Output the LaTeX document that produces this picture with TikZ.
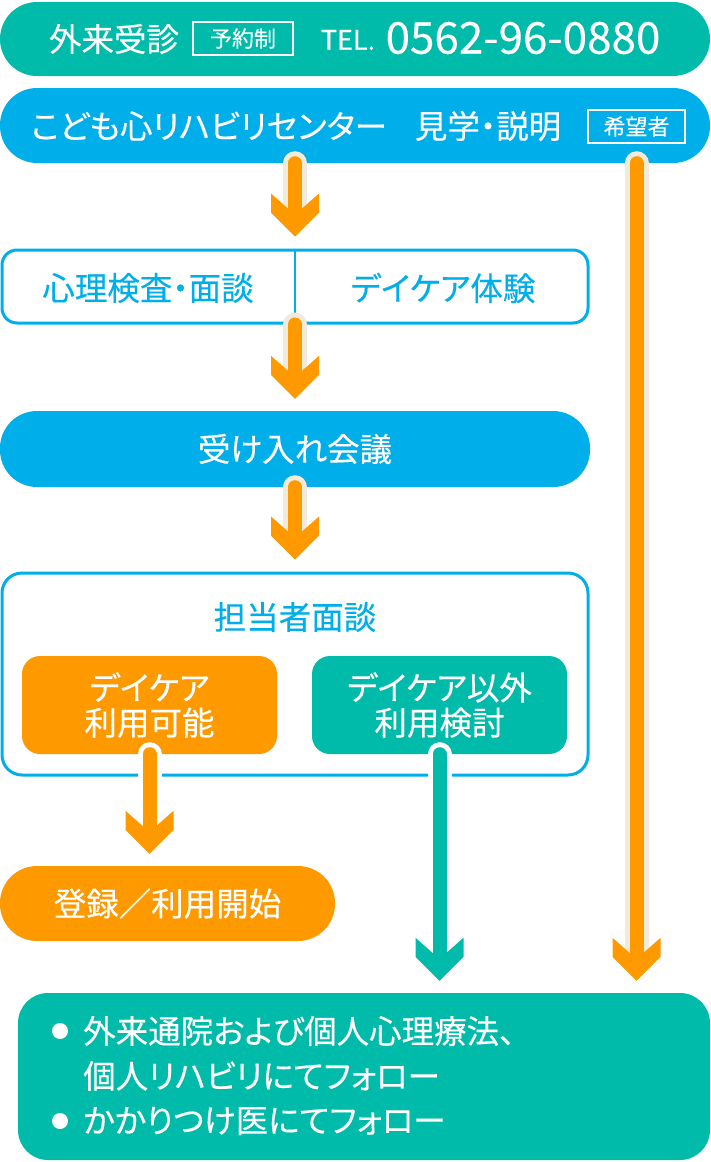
\documentclass[tikz,border=0pt]{standalone}
\usepackage{fontspec}
\setmainfont{Noto Sans CJK JP}[RawFeature=+palt, FakeBold=0.3]
\usepackage{tikz}
\definecolor{mint}{HTML}{00BBA9}
\definecolor{sky}{HTML}{00AEEA}
\definecolor{amber}{HTML}{FF9900}
\definecolor{cream}{HTML}{F1EBDC}
\newcommand{\bodyfont}{\fontsize{32.5pt}{35pt}\selectfont}
\tikzstyle{txt} = [inner sep=0pt, font=\bodyfont]
\tikzstyle{pill} = [rounded corners=37pt, inner sep=0pt, text=white, font=\bodyfont]
\tikzstyle{frame} = [draw=sky, line width=3pt, fill=white, inner sep=0pt]
\tikzstyle{card} = [rounded corners=18pt, inner sep=0pt, text=white, align=center, font=\bodyfont, minimum width=255pt, minimum height=98pt]
\tikzstyle{tag} = [draw=white, line width=1.5pt, text=white, inner sep=0pt, minimum width=100pt, minimum height=33pt, font=\fontsize{22pt}{24pt}\selectfont]
\tikzstyle{shaft} = [line width=5pt, double distance=14pt, line cap=round]
\newcommand{\flowarrow}[4]{%
  \coordinate (tip) at #4;
  \draw[shaft, draw=#2, double=#1] #3 -- ([yshift=28pt]tip);
  \fill[#1] (tip) -- ++(-24,-24) -- ++(0,-19) -- ++(17,15) -- ++(14,0) -- ++(17,-15) -- ++(0,19) -- cycle;
}

\begin{document}
\begin{tikzpicture}[x=1pt,y=-1pt]
        \useasboundingbox (0,0) rectangle (710,1162);
        \node[pill, fill=mint, minimum width=710pt, minimum height=74pt] at (355,39) (tel) {};
        \node[txt, text=white] at (114,39) (gairai) {外来受診};
        \node[tag] at (243,38.5) (yoyaku) {予約制};
        \node[txt, text=white, font=\fontsize{27pt}{30pt}\selectfont] at (348,40) (telhead) {TEL.};
        \node[txt, text=white, font=\fontsize{44pt}{46pt}\selectfont] at (523,38) (telnum) {0562-96-0880};

        \node[pill, fill=sky, minimum width=710pt, minimum height=75pt] at (355,125.5) (rehab) {};
        \node[txt, text=white] at (209,126) (rehabname) {こども心リハビリセンター};
        \node[txt, text=white] at (488,126) (visit) {見学・説明};
        \node[tag, minimum width=97pt] at (636.5,126.5) (wish) {希望者};

        \node[frame, rounded corners=15pt, minimum width=586pt, minimum height=73pt] at (295,286.5) (tests) {};
        \draw[sky, line width=2pt] (tests.north) -- (tests.south);
        \node[txt, text=sky] at (148,288) (exam) {心理検査・面談};
        \node[txt, text=sky] at (443,288) (trial) {デイケア体験};

        \node[pill, fill=sky, minimum width=590pt, minimum height=76pt] at (295,449) (meeting) {受け入れ会議};

        \node[frame, rounded corners=20pt, minimum width=586pt, minimum height=202pt] at (295,674) (interview) {};
        \node[txt, text=sky] at (295,617) (staff) {担当者面談};
        \node[card, fill=amber] at (149.5,705) (daycare) {デイケア\\利用可能};
        \node[card, fill=mint] at (439.5,705) (other) {デイケア以外\\利用検討};

        \node[pill, fill=amber, minimum width=335pt, minimum height=75pt] at (167.5,903.5) (start) {登録／利用開始};

        \node[fill=mint, rounded corners=30pt, minimum width=692pt, minimum height=167pt, inner sep=0pt] at (364,1076.5) (follow) {};
        \fill[white] (60,1031) circle (8);
        \fill[white] (60,1121) circle (8);
        \node[txt, text=white, anchor=west] at (83,1031) (line1) {外来通院および個人心理療法、};
        \node[txt, text=white, anchor=west] at (83,1076) (line2) {個人リハビリにてフォロー};
        \node[txt, text=white, anchor=west] at (83,1121) (line3) {かかりつけ医にてフォロー};

        \flowarrow{amber}{cream}{(rehab.south -| tests.north)}{([yshift=12pt]tests.north)}
        \flowarrow{amber}{cream}{(tests.south)}{([yshift=12pt]meeting.north)}
        \flowarrow{amber}{cream}{(meeting.south)}{([yshift=12pt]interview.north)}
        \flowarrow{amber}{white}{(daycare.south)}{([yshift=12pt]start.north -| daycare.south)}
        \flowarrow{mint}{white}{(other.south)}{([yshift=12pt]follow.north -| other.south)}
        \flowarrow{amber}{cream}{(rehab.south -| wish.south)}{([yshift=12pt]follow.north -| wish.south)}
\end{tikzpicture}
\end{document}
